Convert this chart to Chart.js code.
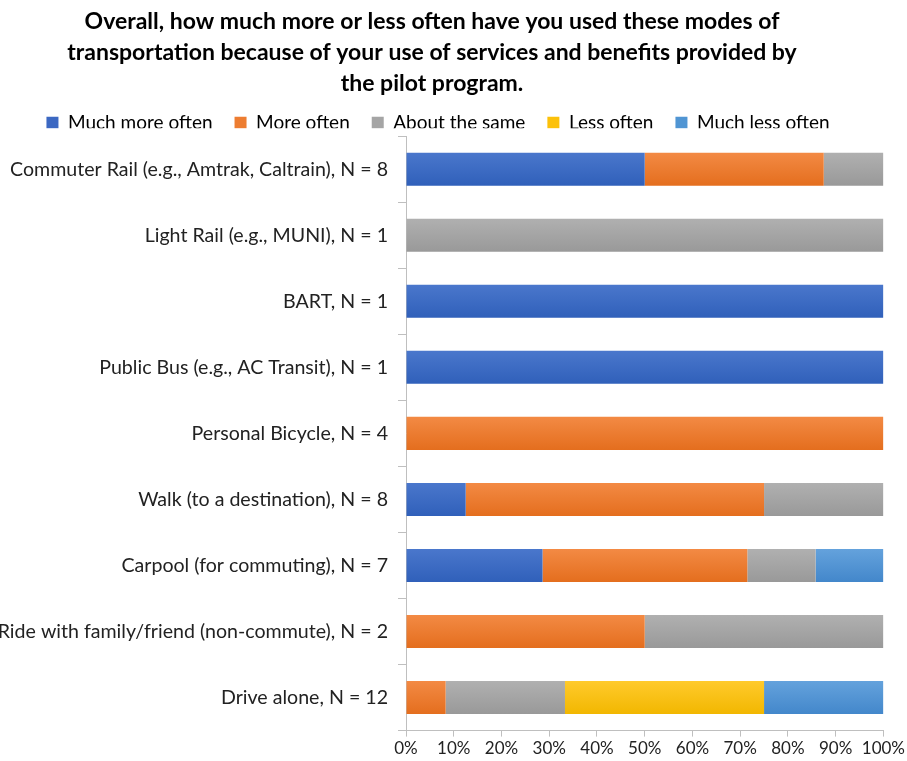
<!DOCTYPE html>
<html>
<head>
<meta charset="utf-8">
<script src="https://cdn.jsdelivr.net/npm/chart.js@4"></script>
<style>
  html, body { margin: 0; padding: 0; background: #fff; }
  #wrap { width: 907px; height: 761px; }
</style>
</head>
<body>
<div id="wrap"><canvas id="chart" width="907" height="761"></canvas></div>
<script>
const categories = [
  'Commuter Rail (e.g., Amtrak, Caltrain), N = 8',
  'Light Rail (e.g., MUNI), N = 1',
  'BART, N = 1',
  'Public Bus (e.g., AC Transit), N = 1',
  'Personal Bicycle, N = 4',
  'Walk (to a destination), N = 8',
  'Carpool (for commuting), N = 7',
  'Ride with family/friend (non-commute), N = 2',
  'Drive alone, N = 12'
];
const muchMore = [50, 0, 100, 100, 0, 12.5, 28.6, 0, 0];
const more     = [37.5, 0, 0, 0, 100, 62.5, 42.9, 50, 8.3];
const same     = [12.5, 100, 0, 0, 0, 25, 14.3, 50, 25];
const less     = [0, 0, 0, 0, 0, 0, 0, 0, 41.7];
const muchLess = [0, 0, 0, 0, 0, 0, 14.2, 0, 25];
const xTicks = [0, 10, 20, 30, 40, 50, 60, 70, 80, 90, 100];

const FONT = 'Lato, "Open Sans", sans-serif';
const AXIS = '#bfbfbf';
const BAR_SHARE = 0.5;

// [flat, top, bottom] - bars in the original fade slightly darker downwards
const series = [
  { label: 'Much more often', data: muchMore, color: ['#3c68c2', '#4a77cc', '#3060ba'] },
  { label: 'More often', data: more, color: ['#ed7d31', '#f38a44', '#e46e1e'] },
  { label: 'About the same', data: same, color: ['#a5a5a5', '#b0b0b0', '#999999'] },
  { label: 'Less often', data: less, color: ['#fcc10a', '#ffca2c', '#f2b700'] },
  { label: 'Much less often', data: muchLess, color: ['#5095d3', '#64a2dc', '#4387cb'] }
];

function barFill(c) {
  return ctx => {
    const y = ctx.chart.scales && ctx.chart.scales.y;
    if (ctx.type !== 'data' || !y || !ctx.chart.chartArea) return c[0];
    const mid = y.getPixelForValue(ctx.dataIndex);
    const half = (ctx.chart.chartArea.height / categories.length) * BAR_SHARE / 2;
    const g = ctx.chart.ctx.createLinearGradient(0, mid - half, 0, mid + half);
    g.addColorStop(0, c[1]);
    g.addColorStop(1, c[2]);
    return g;
  };
}

// title and legend sit a bit left of the canvas centre in the original
const shiftHeader = {
  id: 'shiftHeader',
  afterInit(chart) {
    const fit = chart.legend.fit;
    chart.legend.fit = function () { fit.call(this); this.height -= 14; };
  },
  afterUpdate(chart) {
    chart.titleBlock.left -= 10;
    chart.titleBlock.right -= 10;
    chart.legend.left -= 4;
    chart.legend.right -= 4;
    chart.legend.top -= 8;
    chart.legend.bottom -= 8;
    chart.legend.buildLabels();
    chart.legend.fit();
    chart.legend.adjustHitBoxes();
  }
};

new Chart(document.getElementById('chart'), {
  type: 'bar',
  data: {
    labels: categories,
    datasets: series.map(s => ({
      label: s.label,
      data: s.data,
      backgroundColor: barFill(s.color),
      borderWidth: 0,
      categoryPercentage: BAR_SHARE,
      barPercentage: 1
    }))
  },
  options: {
    indexAxis: 'y',
    responsive: false,
    animation: false,
    layout: { padding: { left: 0, right: 23, top: 6, bottom: 0 } },
    plugins: {
      title: {
        display: true,
        text: [
          'Overall, how much more or less often have you used these modes of',
          'transportation because of your use of services and benefits provided by',
          'the pilot program.'
        ],
        color: '#000',
        font: { family: FONT, size: 23, weight: 'bold', lineHeight: 1.35 },
        padding: { top: 0, bottom: 0 }
      },
      legend: {
        position: 'top',
        labels: {
          color: '#222',
          font: { family: FONT, size: 19 },
          boxWidth: 12,
          boxHeight: 12,
          padding: 22,
          generateLabels: chart => chart.data.datasets.map((d, i) => ({
            text: d.label,
            fillStyle: series[i].color[0],
            strokeStyle: series[i].color[0],
            lineWidth: 0,
            datasetIndex: i,
            hidden: false
          }))
        }
      },
      tooltip: { enabled: false }
    },
    scales: {
      x: {
        stacked: true,
        min: 0,
        max: 100,
        afterBuildTicks: axis => { axis.ticks = xTicks.map(v => ({ value: v })); },
        ticks: {
          color: '#222',
          font: { family: FONT, size: 17 },
          callback: v => v + '%',
          maxRotation: 0,
          autoSkip: false,
          padding: 2
        },
        grid: { drawOnChartArea: false, color: AXIS, tickLength: 6 },
        border: { color: AXIS }
      },
      y: {
        stacked: true,
        afterFit: axis => { axis.width = 406; },
        ticks: {
          color: '#222',
          font: { family: FONT, size: 19.6 },
          padding: 10
        },
        grid: { drawOnChartArea: false, offset: true, color: AXIS, tickLength: 8 },
        border: { color: AXIS }
      }
    }
  },
  plugins: [shiftHeader]
});
</script>
</body>
</html>
